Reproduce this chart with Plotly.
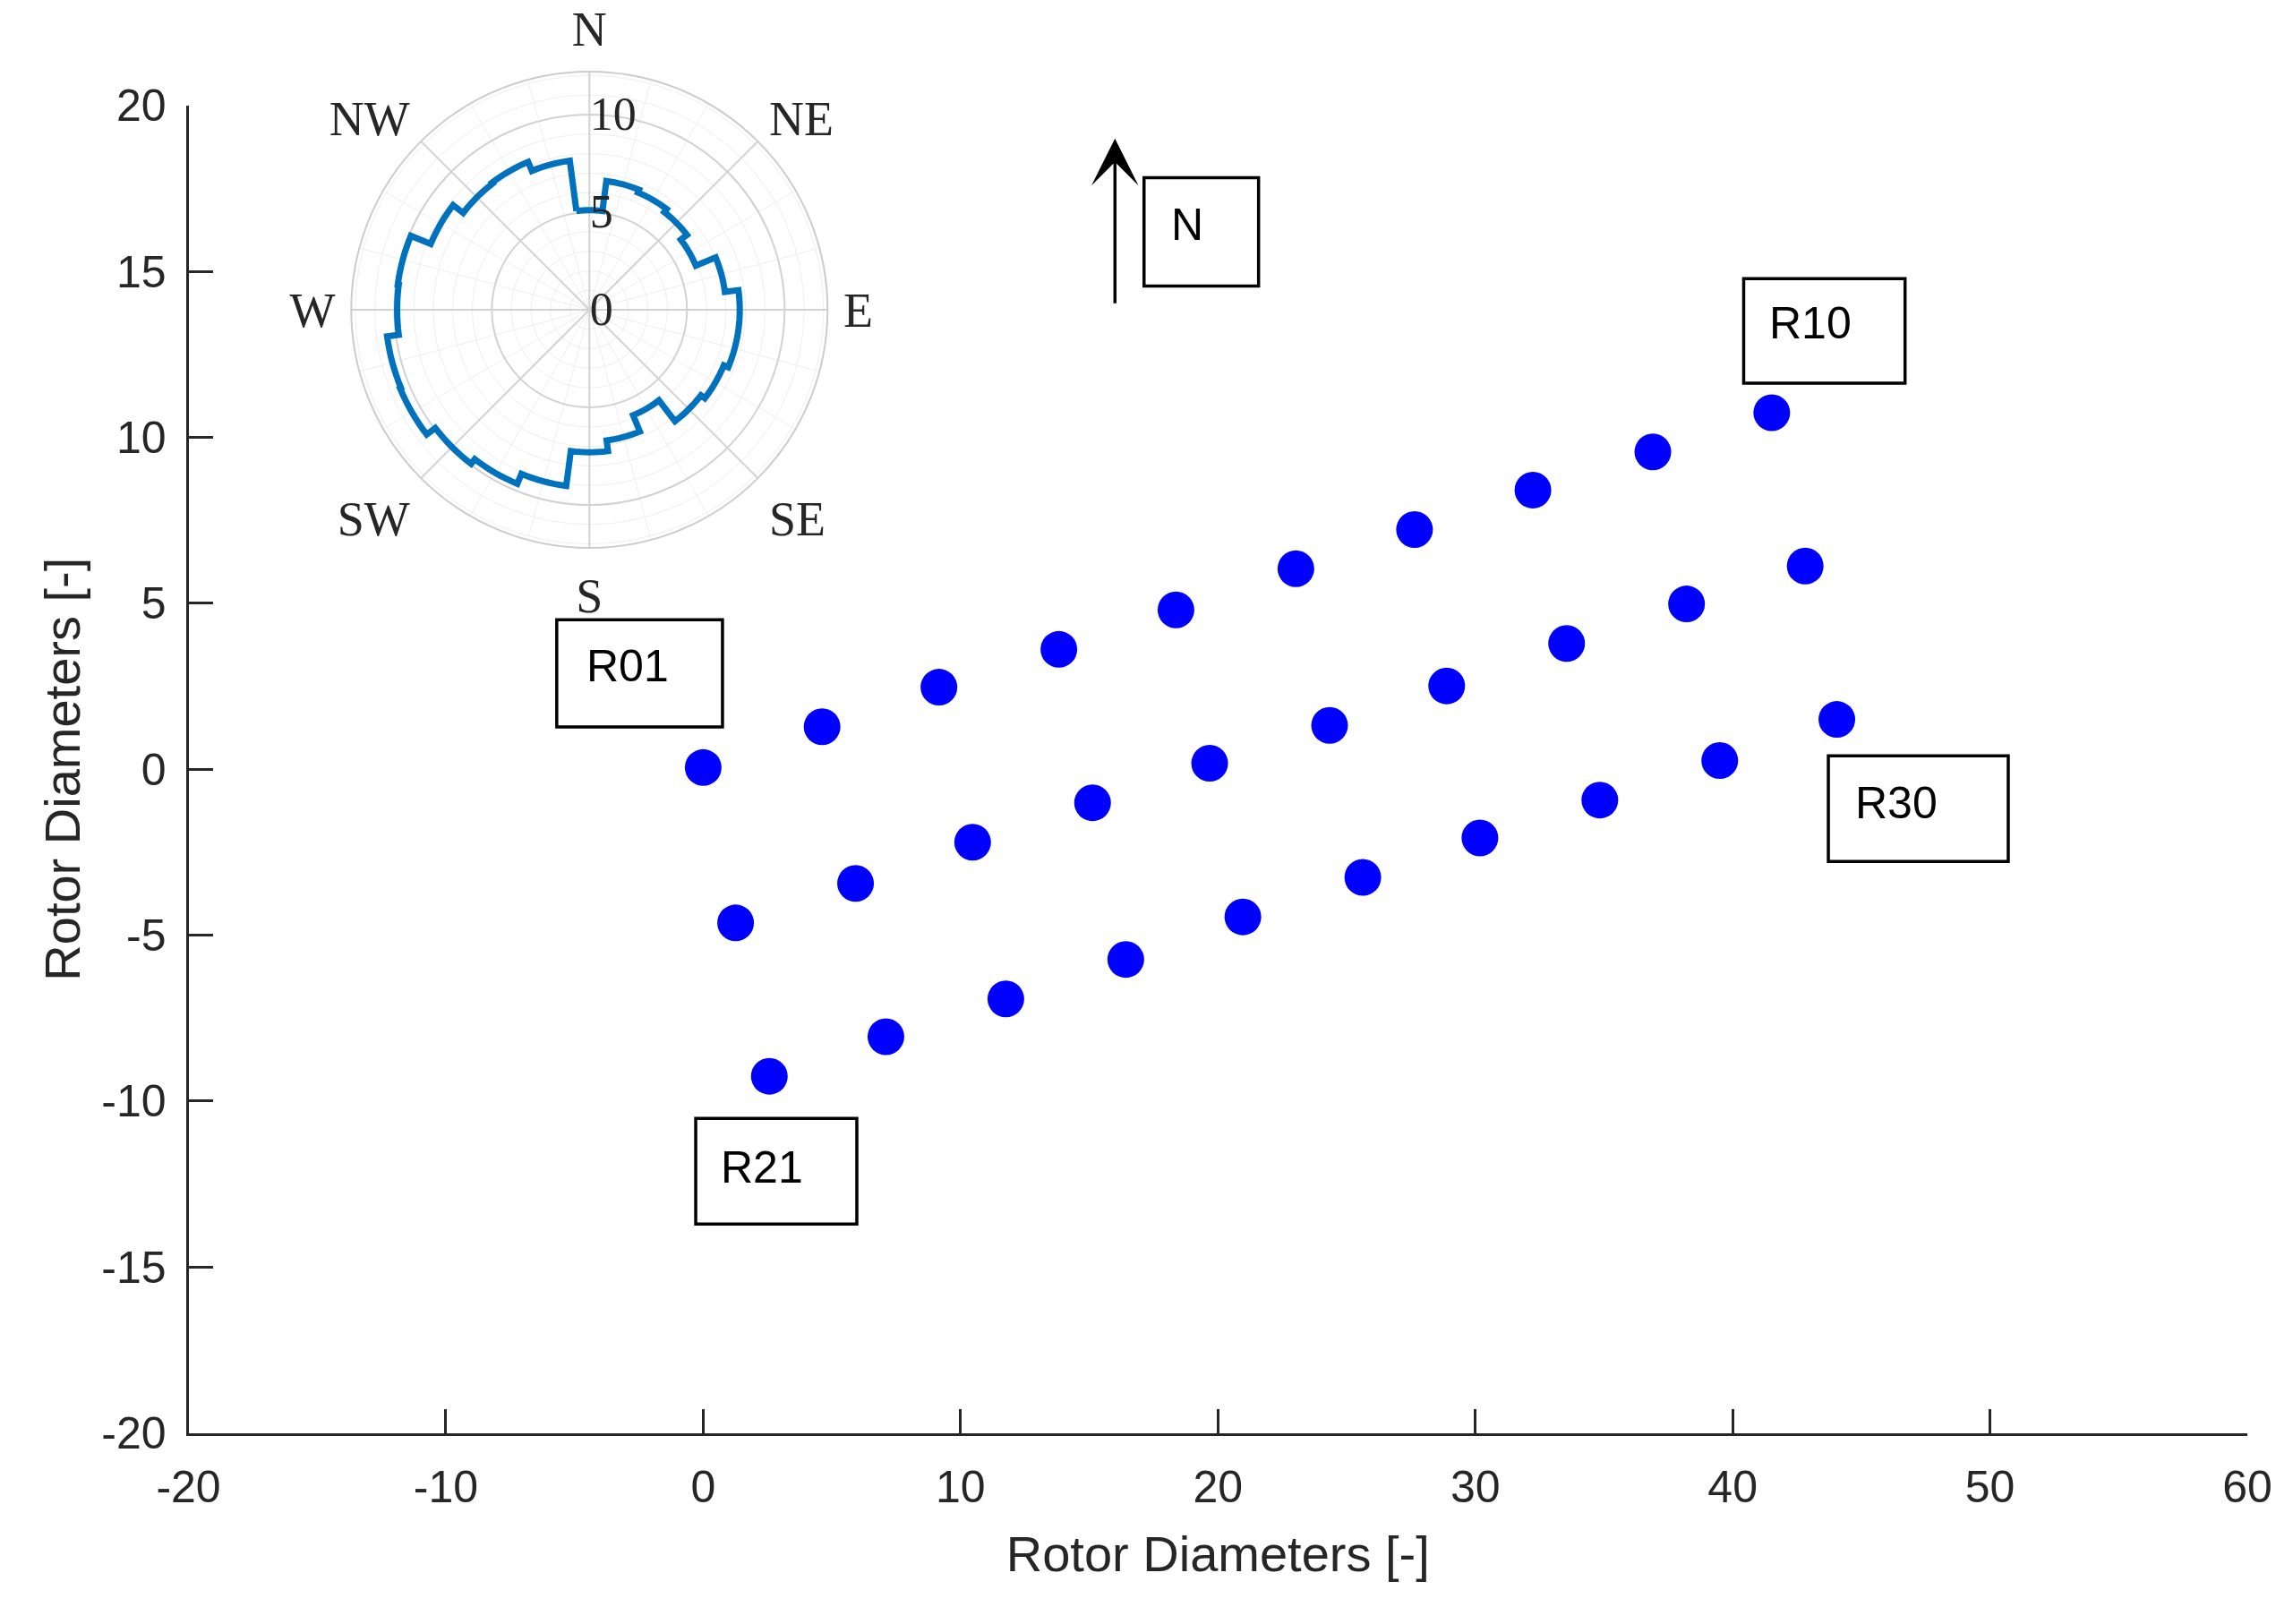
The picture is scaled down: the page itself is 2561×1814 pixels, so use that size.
import numpy as np
import plotly.graph_objects as go

# ---------------- data ----------------
# turbine positions in rotor diameters, three rows of ten
row1_x = [0.0, 4.62, 9.16, 13.82, 18.37, 23.03, 27.64, 32.24, 36.90, 41.52]
row1_y = [0.05, 1.28, 2.47, 3.61, 4.80, 6.04, 7.22, 8.41, 9.56, 10.74]
row2_x = [1.26, 5.92, 10.47, 15.13, 19.68, 24.34, 28.89, 33.55, 38.21, 42.82]
row2_y = [-4.63, -3.44, -2.20, -1.01, 0.18, 1.32, 2.51, 3.79, 4.98, 6.12]
row3_x = [2.57, 7.10, 11.76, 16.42, 20.97, 25.63, 30.18, 34.84, 39.50, 44.05]
row3_y = [-9.25, -8.06, -6.92, -5.73, -4.45, -3.26, -2.07, -0.93, 0.26, 1.50]

turbine_labels = ["R01", "R10", "R21", "R30"]
north_label = "N"

x_ticks = [-20, -10, 0, 10, 20, 30, 40, 50, 60]
x_tick_text = ["-20", "-10", "0", "10", "20", "30", "40", "50", "60"]
y_ticks = [-20, -15, -10, -5, 0, 5, 10, 15, 20]
y_tick_text = ["-20", "-15", "-10", "-5", "0", "5", "10", "15", "20"]

# wind rose: sector centre direction (deg) and frequency
rose_dir = list(range(0, 360, 15))
rose_val = [5.1, 6.65, 6.5, 6.3, 5.9, 7.0, 7.7, 7.7, 7.45, 7.2, 5.85, 6.75,
            7.3, 9.1, 9.65, 9.95, 10.5, 10.45, 9.85, 9.9, 8.8, 8.15, 8.2, 7.7]
compass_vals = [0, 45, 90, 135, 180, 225, 270, 315]
compass_text = ["N", "NE", "E", "SE", "S", "SW", "W", "NW"]
rose_rticks = [0, 5, 10]

# ---------------- figure ----------------
W, H = 2561, 1814
AXC = "#262626"
SANS = "Liberation Sans"
SERIF = "Liberation Serif"

fig = go.Figure()

# stair outline of the wind rose (each sector drawn as an arc)
half = 7.5
th, rr = [], []
for d, v in zip(rose_dir, rose_val):
    for t in np.linspace(d - half, d + half, 9):
        th.append(float(t))
        rr.append(v)
th.append(th[0])
rr.append(rr[0])

fig.add_trace(go.Scatterpolar(r=[], theta=[], subplot="polar", showlegend=False,
                              hoverinfo="skip"))
fig.add_trace(go.Scatterpolar(r=rr, theta=th, subplot="polar2", mode="lines",
                              line=dict(color="#0072BD", width=7),
                              showlegend=False))

for xs, ys in [(row1_x, row1_y), (row2_x, row2_y), (row3_x, row3_y)]:
    fig.add_trace(go.Scatter(x=xs, y=ys, mode="markers",
                             marker=dict(color="#0000FF", size=41, line=dict(width=0)),
                             showlegend=False))

# polar domain: centre (658, 346) px, radius ~266 px
cx, cy, R = 658.3, 346.0, 266.0
pdom = dict(x=[(cx - R) / W, (cx + R) / W], y=[1 - (cy + R) / H, 1 - (cy - R) / H])

fig.update_layout(
    width=W, height=H, autosize=False,
    margin=dict(l=0, r=0, t=0, b=0, pad=0),
    paper_bgcolor="white", plot_bgcolor="white",
    font=dict(family=SANS, color=AXC),
    xaxis=dict(domain=[210.5 / W, 2510 / W], range=[-20, 60],
               tickmode="array", tickvals=x_ticks, ticktext=x_tick_text,
               ticks="inside", ticklen=27, tickwidth=3, tickcolor=AXC,
               showline=True, linecolor=AXC, linewidth=3, showgrid=False,
               zeroline=False, automargin=False, ticklabelstandoff=14,
               tickfont=dict(family=SANS, size=50, color=AXC),
               title=dict(text="Rotor Diameters [-]", standoff=29,
                          font=dict(family=SANS, size=56, color=AXC))),
    yaxis=dict(domain=[1 - 1600.7 / H, 1 - 117.7 / H], range=[-20, 20],
               tickmode="array", tickvals=y_ticks, ticktext=y_tick_text,
               ticks="inside", ticklen=27, tickwidth=3, tickcolor=AXC,
               showline=True, linecolor=AXC, linewidth=3, showgrid=False,
               zeroline=False, automargin=False, ticklabelstandoff=12,
               tickfont=dict(family=SANS, size=50, color=AXC),
               title=dict(text="Rotor Diameters [-]", standoff=6,
                          font=dict(family=SANS, size=56, color=AXC))),
    polar=dict(
        domain=pdom, bgcolor="white",
        angularaxis=dict(direction="clockwise", rotation=90, tickmode="array",
                         tickvals=list(range(0, 360, 15)), showticklabels=False,
                         ticks="", showline=False, gridcolor="#efefef", gridwidth=1),
        radialaxis=dict(range=[0, 12.2], tickvals=list(range(1, 13)),
                        showticklabels=False, ticks="", showline=False,
                        gridcolor="#efefef", gridwidth=1),
    ),
    polar2=dict(
        domain=pdom, bgcolor="rgba(0,0,0,0)",
        angularaxis=dict(direction="clockwise", rotation=90, tickmode="array",
                         tickvals=compass_vals, ticktext=compass_text,
                         ticks="outside", ticklen=6, tickcolor="rgba(0,0,0,0)",
                         showline=True, linecolor="#cccccc", linewidth=2,
                         gridcolor="#d2d2d2", gridwidth=1.5,
                         tickfont=dict(family=SERIF, size=54, color=AXC)),
        radialaxis=dict(range=[0, 12.2], tickmode="array", tickvals=rose_rticks,
                        angle=90, tickangle=90, showline=False, ticks="", ticklen=0,
                        gridcolor="#d2d2d2", gridwidth=1.5,
                        tickfont=dict(family=SERIF, size=52, color=AXC)),
    ),
)

# text boxes (MATLAB style annotation boxes)
boxes = [(-5.69, 0.75, 1.27, 4.50), (40.43, 46.70, 11.63, 14.78),
         (-0.29, 5.97, -13.70, -10.52), (43.72, 50.71, -2.78, 0.40),
         (17.13, 21.58, 14.56, 17.82)]
text_pos = [(-4.61, 3.10), (41.36, 13.44), (0.63, -11.99), (44.68, -1.02), (18.11, 16.41)]
texts = turbine_labels + [north_label]
for (x0, x1, y0, y1), (tx, ty), t in zip(boxes, text_pos, texts):
    fig.add_shape(type="rect", xref="x", yref="y", x0=x0, x1=x1, y0=y0, y1=y1,
                  line=dict(color="black", width=3.5), fillcolor="rgba(0,0,0,0)")
    fig.add_annotation(x=tx, y=ty, xref="x", yref="y", text=t, showarrow=False,
                       xanchor="left", yanchor="middle",
                       font=dict(family=SANS, size=50, color="black"))

# north arrow
fig.add_annotation(x=16, y=19, ax=16, ay=14, xref="x", yref="y", axref="x", ayref="y",
                   text="", showarrow=True, arrowhead=3, arrowsize=2.5, arrowwidth=3.5,
                   arrowcolor="black")

fig.write_html("out.html", config={"displayModeBar": False},
               post_script="document.body.style.margin='0';")
